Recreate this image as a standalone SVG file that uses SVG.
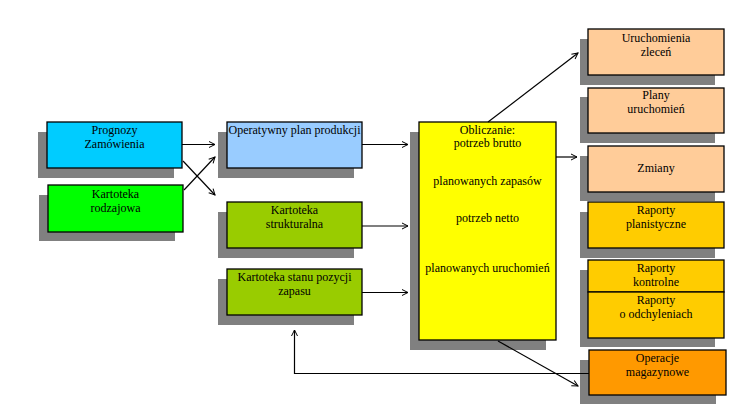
<svg xmlns="http://www.w3.org/2000/svg" width="746" height="415" viewBox="0 0 746 415">
<defs>
<marker id="ah" markerWidth="8" markerHeight="8" refX="7" refY="4" orient="auto" markerUnits="userSpaceOnUse">
<path d="M1,1 L7,4 L1,7" fill="none" stroke="#000" stroke-width="1"/>
</marker>
</defs>
<style>
.sh{fill:#808080}
.bx{stroke:#000;stroke-width:1.3}
text{font-family:'Liberation Serif','Times New Roman',serif;font-size:12px;fill:#000;text-anchor:middle}
.c{fill:none;stroke:#000;stroke-width:1.2;marker-end:url(#ah)}
</style>
<rect width="746" height="415" fill="#fff"/>
<g font-family="Liberation Serif, serif">
<g id="prognozy">
<rect class="sh" x="38" y="132" width="136" height="46"/>
<rect class="bx" x="47" y="122" width="135" height="46" fill="#00CCFF"/>
<text x="114.5" y="134">Prognozy</text>
<text x="114.5" y="148">Zamówienia</text>
</g>
<g id="kartoteka-rodzajowa">
<rect class="sh" x="39" y="195" width="136" height="46"/>
<rect class="bx" x="48" y="185" width="135" height="47" fill="#00FF00"/>
<text x="115.5" y="198">Kartoteka</text>
<text x="115.5" y="212">rodzajowa</text>
</g>
<g id="operatywny">
<rect class="sh" x="218" y="132" width="136" height="46"/>
<rect class="bx" x="227" y="122" width="135" height="46" fill="#99CCFF"/>
<text x="294.5" y="134">Operatywny plan produkcji</text>
</g>
<g id="kartoteka-strukturalna">
<rect class="sh" x="218" y="212" width="136" height="46"/>
<rect class="bx" x="227" y="202" width="135" height="46" fill="#99CC00"/>
<text x="294.5" y="214">Kartoteka</text>
<text x="294.5" y="228">strukturalna</text>
</g>
<g id="kartoteka-stanu">
<rect class="sh" x="218" y="279" width="136" height="46"/>
<rect class="bx" x="227" y="269" width="135" height="46" fill="#99CC00"/>
<text x="294.5" y="281">Kartoteka stanu pozycji</text>
<text x="294.5" y="295">zapasu</text>
</g>
<g id="obliczanie">
<rect class="sh" x="410" y="132" width="136" height="218"/>
<rect class="bx" x="419" y="122" width="137" height="218" fill="#FFFF00"/>
<text x="487.5" y="134">Obliczanie:</text>
<text x="487.5" y="147">potrzeb brutto</text>
<text x="487.5" y="185">planowanych zapasów</text>
<text x="487.5" y="222">potrzeb netto</text>
<text x="487.5" y="272">planowanych uruchomień</text>
</g>
<g id="uruchomienia">
<rect class="sh" x="580" y="39" width="135" height="46"/>
<rect class="bx" x="588" y="29" width="136" height="46" fill="#FFCC99"/>
<text x="656" y="42">Uruchomienia</text>
<text x="656" y="56">zleceń</text>
</g>
<g id="plany">
<rect class="sh" x="580" y="97" width="135" height="46"/>
<rect class="bx" x="588" y="88" width="136" height="45" fill="#FFCC99"/>
<text x="656" y="99">Plany</text>
<text x="656" y="113">uruchomień</text>
</g>
<g id="zmiany">
<rect class="sh" x="580" y="156" width="135" height="45"/>
<rect class="bx" x="588" y="146" width="136" height="46" fill="#FFCC99"/>
<text x="656" y="172">Zmiany</text>
</g>
<g id="raporty-planistyczne">
<rect class="sh" x="580" y="212" width="135" height="46"/>
<rect class="bx" x="588" y="202" width="136" height="46" fill="#FFCC00"/>
<text x="656" y="214">Raporty</text>
<text x="656" y="228">planistyczne</text>
</g>
<g id="raporty-kontrolne">
<rect class="sh" x="580" y="270" width="135" height="77"/>
<rect class="bx" x="588" y="260" width="136" height="32" fill="#FFCC00"/>
<text x="656" y="272">Raporty</text>
<text x="656" y="286">kontrolne</text>
</g>
<g id="raporty-odchylenia">
<rect class="bx" x="588" y="292" width="136" height="46" fill="#FFCC00"/>
<text x="656" y="304">Raporty</text>
<text x="656" y="318">o odchyleniach</text>
</g>
<g id="operacje">
<rect class="sh" x="580" y="360" width="136" height="44"/>
<rect class="bx" x="589" y="350" width="137" height="45" fill="#FF9900"/>
<text x="657.5" y="362">Operacje</text>
<text x="657.5" y="376">magazynowe</text>
</g>
</g>
<g id="connectors">
<line class="c" x1="182" y1="144.5" x2="215" y2="144.5"/>
<line class="c" x1="183" y1="161" x2="215" y2="195"/>
<line class="c" x1="184" y1="190" x2="215" y2="157"/>
<line class="c" x1="362" y1="144.5" x2="408" y2="144.5"/>
<line class="c" x1="362" y1="226" x2="408" y2="226"/>
<line class="c" x1="362" y1="292.5" x2="408" y2="292.5"/>
<line class="c" x1="556" y1="157" x2="577" y2="157"/>
<line class="c" x1="488" y1="122" x2="578" y2="53"/>
<line class="c" x1="498" y1="341" x2="578" y2="386"/>
<polyline class="c" points="589,373.5 294.5,373.5 294.5,330"/>
</g>
</svg>
